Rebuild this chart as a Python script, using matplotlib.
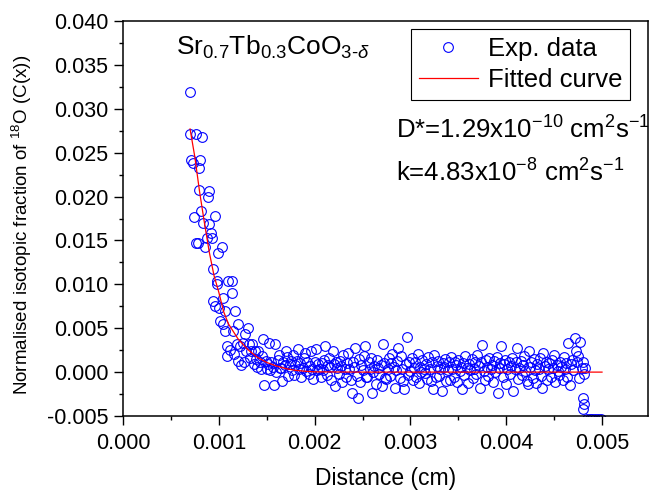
import numpy as np
import matplotlib.pyplot as plt
from matplotlib.ticker import MultipleLocator, FormatStrFormatter

# steep near-surface part of the profile (read point by point)
steep_x = [0.000699, 0.000699, 0.000710, 0.000730, 0.000741, 0.000762, 0.000762, 0.000783,
           0.000793, 0.000793, 0.000804, 0.000814, 0.000825, 0.000835, 0.000856, 0.000877,
           0.000887, 0.000898, 0.000898, 0.000919, 0.000929, 0.000940, 0.000940, 0.000960,
           0.000960, 0.000981, 0.000981, 0.000992, 0.001002, 0.001013, 0.001033, 0.001044,
           0.001044, 0.001065, 0.001065, 0.001086, 0.001086, 0.001096, 0.001117, 0.001138,
           0.001138, 0.001148, 0.001159, 0.001169, 0.001190, 0.001200, 0.001200, 0.001221,
           0.001232]
steep_y = [0.0319, 0.0271, 0.0242, 0.0238, 0.0177, 0.0271, 0.0147, 0.0147,
           0.0233, 0.0207, 0.0242, 0.0184, 0.0268, 0.0170, 0.0143, 0.0153,
           0.0200, 0.0206, 0.0169, 0.0158, 0.0153, 0.0118, 0.0081, 0.0178,
           0.0075, 0.0104, 0.0100, 0.0136, 0.0073, 0.0058, 0.0142, 0.0085,
           0.0055, 0.0070, 0.0047, 0.0030, 0.0018, 0.0104, 0.0025, 0.0104,
           0.0090, 0.0047, 0.0021, 0.0070, 0.0032, 0.0055, 0.0013, 0.0030,
           0.0008]

# tail / background part
flat_x = [
    0.001250, 0.001263, 0.001275, 0.001288, 0.001300, 0.001313, 0.001325, 0.001338,
    0.001350, 0.001363, 0.001375, 0.001388, 0.001400, 0.001413, 0.001425, 0.001438,
    0.001450, 0.001463, 0.001475, 0.001488, 0.001500, 0.001513, 0.001525, 0.001538,
    0.001550, 0.001563, 0.001575, 0.001588, 0.001600, 0.001613, 0.001625, 0.001638,
    0.001650, 0.001663, 0.001675, 0.001688, 0.001700, 0.001713, 0.001725, 0.001738,
    0.001750, 0.001763, 0.001775, 0.001788, 0.001800, 0.001813, 0.001825, 0.001838,
    0.001850, 0.001863, 0.001875, 0.001888, 0.001900, 0.001913, 0.001925, 0.001938,
    0.001950, 0.001963, 0.001975, 0.001988, 0.002000, 0.002013, 0.002025, 0.002038,
    0.002050, 0.002063, 0.002075, 0.002088, 0.002100, 0.002113, 0.002125, 0.002138,
    0.002150, 0.002163, 0.002175, 0.002188, 0.002200, 0.002213, 0.002225, 0.002238,
    0.002250, 0.002263, 0.002275, 0.002288, 0.002300, 0.002313, 0.002325, 0.002338,
    0.002350, 0.002363, 0.002375, 0.002388, 0.002400, 0.002413, 0.002425, 0.002438,
    0.002450, 0.002463, 0.002475, 0.002488, 0.002500, 0.002513, 0.002525, 0.002538,
    0.002550, 0.002563, 0.002575, 0.002588, 0.002600, 0.002613, 0.002625, 0.002638,
    0.002650, 0.002663, 0.002675, 0.002688, 0.002700, 0.002713, 0.002725, 0.002738,
    0.002750, 0.002763, 0.002775, 0.002788, 0.002800, 0.002813, 0.002825, 0.002838,
    0.002850, 0.002863, 0.002875, 0.002888, 0.002900, 0.002913, 0.002925, 0.002938,
    0.002950, 0.002963, 0.002975, 0.002988, 0.003000, 0.003013, 0.003025, 0.003038,
    0.003050, 0.003063, 0.003075, 0.003088, 0.003100, 0.003113, 0.003125, 0.003138,
    0.003150, 0.003163, 0.003175, 0.003188, 0.003200, 0.003213, 0.003225, 0.003238,
    0.003250, 0.003263, 0.003275, 0.003288, 0.003300, 0.003313, 0.003325, 0.003338,
    0.003350, 0.003363, 0.003375, 0.003388, 0.003400, 0.003413, 0.003425, 0.003438,
    0.003450, 0.003463, 0.003475, 0.003488, 0.003500, 0.003513, 0.003525, 0.003538,
    0.003550, 0.003563, 0.003575, 0.003588, 0.003600, 0.003613, 0.003625, 0.003638,
    0.003650, 0.003663, 0.003675, 0.003688, 0.003700, 0.003713, 0.003725, 0.003738,
    0.003750, 0.003763, 0.003775, 0.003788, 0.003800, 0.003813, 0.003825, 0.003838,
    0.003850, 0.003863, 0.003875, 0.003888, 0.003900, 0.003913, 0.003925, 0.003938,
    0.003950, 0.003963, 0.003975, 0.003988, 0.004000, 0.004013, 0.004025, 0.004038,
    0.004050, 0.004063, 0.004075, 0.004088, 0.004100, 0.004113, 0.004125, 0.004138,
    0.004150, 0.004163, 0.004175, 0.004188, 0.004200, 0.004213, 0.004225, 0.004238,
    0.004250, 0.004263, 0.004275, 0.004288, 0.004300, 0.004313, 0.004325, 0.004338,
    0.004350, 0.004363, 0.004375, 0.004388, 0.004400, 0.004413, 0.004425, 0.004438,
    0.004450, 0.004463, 0.004475, 0.004488, 0.004500, 0.004513, 0.004525, 0.004538,
    0.004550, 0.004563, 0.004575, 0.004588, 0.004600, 0.004613, 0.004625, 0.004638,
    0.004650, 0.004663, 0.004675, 0.004688, 0.004700, 0.004713, 0.004725, 0.004738,
    0.004750, 0.004763, 0.004775, 0.004788, 0.004800, 0.004813]
flat_y = [
    0.0033, 0.0012, 0.0043, 0.0024, 0.0050, 0.0032, 0.0016, 0.0024,
    0.0032, 0.0009, 0.0024, 0.0015, 0.0006, 0.0024, 0.0011, 0.0003,
    0.0018, 0.0038, -0.0015, 0.0013, 0.0004, 0.0009, 0.0033, 0.0002,
    0.0011, 0.0006, -0.0015, 0.0032, 0.0000, 0.0014, 0.0020, 0.0005,
    0.0005, -0.0010, 0.0012, 0.0008, 0.0024, 0.0017, -0.0004, 0.0009,
    0.0013, 0.0002, 0.0019, -0.0003, 0.0008, 0.0013, 0.0026, 0.0004,
    0.0010, -0.0006, 0.0005, 0.0016, 0.0022, 0.0001, 0.0011, -0.0002,
    0.0007, 0.0024, 0.0003, -0.0008, 0.0012, 0.0026, 0.0002, 0.0009,
    0.0004, -0.0005, 0.0010, 0.0002, 0.0014, 0.0030, -0.0003, 0.0008,
    0.0016, 0.0006, -0.0009, 0.0024, 0.0009, -0.0016, 0.0012, 0.0005,
    -0.0002, 0.0013, 0.0007, -0.0011, 0.0019, 0.0004, -0.0006, 0.0010,
    0.0022, 0.0003, -0.0009, -0.0024, 0.0011, 0.0006, 0.0027, -0.0004,
    -0.0030, 0.0015, -0.0011, 0.0008, 0.0002, 0.0018, 0.0030, -0.0005,
    -0.0006, 0.0011, 0.0004, 0.0016, -0.0024, 0.0000, 0.0007, -0.0013,
    0.0014, 0.0005, -0.0002, 0.0008, -0.0016, 0.0032, 0.0010, -0.0007,
    -0.0008, 0.0003, 0.0016, -0.0004, 0.0010, 0.0021, 0.0006, -0.0018,
    0.0002, 0.0013, 0.0027, -0.0007, 0.0018, 0.0004, -0.0010, -0.0019,
    0.0009, 0.0040, -0.0003, 0.0012, 0.0001, 0.0016, -0.0009, 0.0005,
    0.0011, -0.0005, 0.0021, -0.0012, 0.0006, 0.0000, 0.0014, 0.0003,
    -0.0001, 0.0009, -0.0008, 0.0017, 0.0004, -0.0010, 0.0012, -0.0019,
    0.0019, -0.0006, 0.0007, 0.0013, -0.0004, 0.0003, -0.0021, 0.0010,
    0.0006, 0.0015, -0.0010, 0.0002, 0.0011, -0.0009, 0.0017, 0.0004,
    -0.0005, 0.0012, 0.0008, -0.0011, 0.0014, 0.0001, 0.0006, -0.0019,
    0.0010, -0.0003, 0.0018, 0.0005, -0.0012, 0.0009, 0.0002, 0.0015,
    -0.0007, 0.0004, 0.0012, -0.0002, 0.0019, 0.0007, -0.0018, 0.0011,
    0.0031, 0.0001, -0.0009, 0.0014, 0.0006, -0.0004, 0.0016, 0.0003,
    0.0008, -0.0011, 0.0013, 0.0000, 0.0017, -0.0024, 0.0005, 0.0010,
    0.0030, -0.0006, 0.0009, 0.0014, -0.0013, 0.0004, 0.0011, -0.0002,
    0.0007, 0.0016, -0.0022, 0.0003, 0.0012, 0.0027, -0.0008, 0.0005,
    0.0013, -0.0003, 0.0008, 0.0018, 0.0001, -0.0010, -0.0014, 0.0024,
    0.0006, 0.0011, -0.0007, 0.0015, 0.0002, -0.0012, 0.0009, 0.0004,
    0.0016, -0.0004, -0.0018, 0.0022, 0.0007, 0.0012, -0.0009, 0.0003,
    0.0010, -0.0006, 0.0014, 0.0005, 0.0019, -0.0011, 0.0008, 0.0001,
    -0.0003, 0.0012, 0.0006, -0.0009, 0.0017, 0.0003, 0.0010, -0.0005,
    0.0033, -0.0015, 0.0009, 0.0014, 0.0002, 0.0039, 0.0024, 0.0011,
    0.0018, -0.0007, 0.0034, 0.0005, 0.0012, -0.0002]

# last points near the back of the sample, some below the axis
tail_x = [0.004820, 0.004800, 0.004810, 0.004805, 0.004840, 0.004870, 0.004900, 0.004930, 0.004960, 0.004990]
tail_y = [0.0005, -0.0030, -0.0036, -0.0042, -0.0053, -0.0053, -0.0053, -0.0053, -0.0053, -0.0053]

# fitted curve
fit_x = [0.00070, 0.00075, 0.00080, 0.00085, 0.00090, 0.00095, 0.00100, 0.00105, 0.00110,
         0.00120, 0.00130, 0.00140, 0.00150, 0.00160, 0.00170, 0.00180, 0.00190, 0.00200,
         0.00250, 0.00500]
fit_y = [0.0277, 0.0245, 0.0205, 0.0170, 0.0137, 0.0110, 0.0091, 0.0069, 0.0055,
         0.0038, 0.0026, 0.0017, 0.0011, 0.0007, 0.0004, 0.0002, 0.0001, 0.00003,
         0.0, 0.0]

dist_cm = steep_x + flat_x + tail_x
frac = steep_y + flat_y + tail_y

plt.rcParams['font.family'] = ['Liberation Sans', 'DejaVu Sans']
plt.rcParams['mathtext.fontset'] = 'custom'
plt.rcParams['mathtext.rm'] = 'Liberation Sans'
plt.rcParams['mathtext.it'] = 'Liberation Sans:italic'
plt.rcParams['mathtext.bf'] = 'Liberation Sans:bold'
plt.rcParams['axes.unicode_minus'] = False

fig = plt.figure(figsize=(6.5, 4.91), dpi=100)
ax = fig.add_axes([123/650, 1 - 416/491, 525/650, 395/491])

ax.plot(dist_cm, frac, ls='none', marker='o', ms=7.0, mfc='none', mec='blue', mew=0.8,
        label='Exp. data')
ax.plot(fit_x, fit_y, color='red', lw=0.9, label='Fitted curve')

ax.set_xlim(0, 0.00548)
ax.set_ylim(-0.005, 0.040)
ax.xaxis.set_major_locator(MultipleLocator(0.001))
ax.xaxis.set_minor_locator(MultipleLocator(0.0005))
ax.yaxis.set_major_locator(MultipleLocator(0.005))
ax.yaxis.set_minor_locator(MultipleLocator(0.0025))
ax.xaxis.set_major_formatter(FormatStrFormatter('%.3f'))
ax.yaxis.set_major_formatter(FormatStrFormatter('%.3f'))
ax.tick_params(which='both', direction='out', top=False, right=False, width=1.0, labelsize=15.5)
ax.tick_params(axis='x', pad=6)
ax.tick_params(axis='y', pad=4)
ax.tick_params(which='major', length=6.5)
ax.tick_params(which='minor', length=3.2)
for s in ax.spines.values():
    s.set_linewidth(1.1)

ax.set_xlabel('Distance (cm)', fontsize=16.5, labelpad=9)
fig.text(22/650, 1 - 225/491, r'Normalised isotopic fraction of $^{18}$O (C(x))',
         rotation=90, ha='center', va='center', fontsize=13.5)

fig.text(176/650, 1 - 55/491, r'Sr$_{0.7}$Tb$_{0.3}$CoO$_{3\text{-}\delta}$', fontsize=19, va='baseline')
fig.text(396/650, 1 - 139/491, r'D*=1.29x10$^{-10}$ cm$^{2}$s$^{-1}$', fontsize=18.5, va='baseline')
fig.text(396/650, 1 - 182/491, r'k=4.83x10$^{-8}$ cm$^{2}$s$^{-1}$', fontsize=18.5, va='baseline')

leg = ax.legend(loc='upper right', bbox_to_anchor=(0.966, 0.980), borderaxespad=0, fontsize=18.5,
                fancybox=False, edgecolor='black', framealpha=1, handlelength=2.3,
                handletextpad=0.4, labelspacing=0.3, borderpad=0.3, numpoints=1)
leg.get_frame().set_linewidth(0.8)

fig.savefig('out.png', dpi=100)
